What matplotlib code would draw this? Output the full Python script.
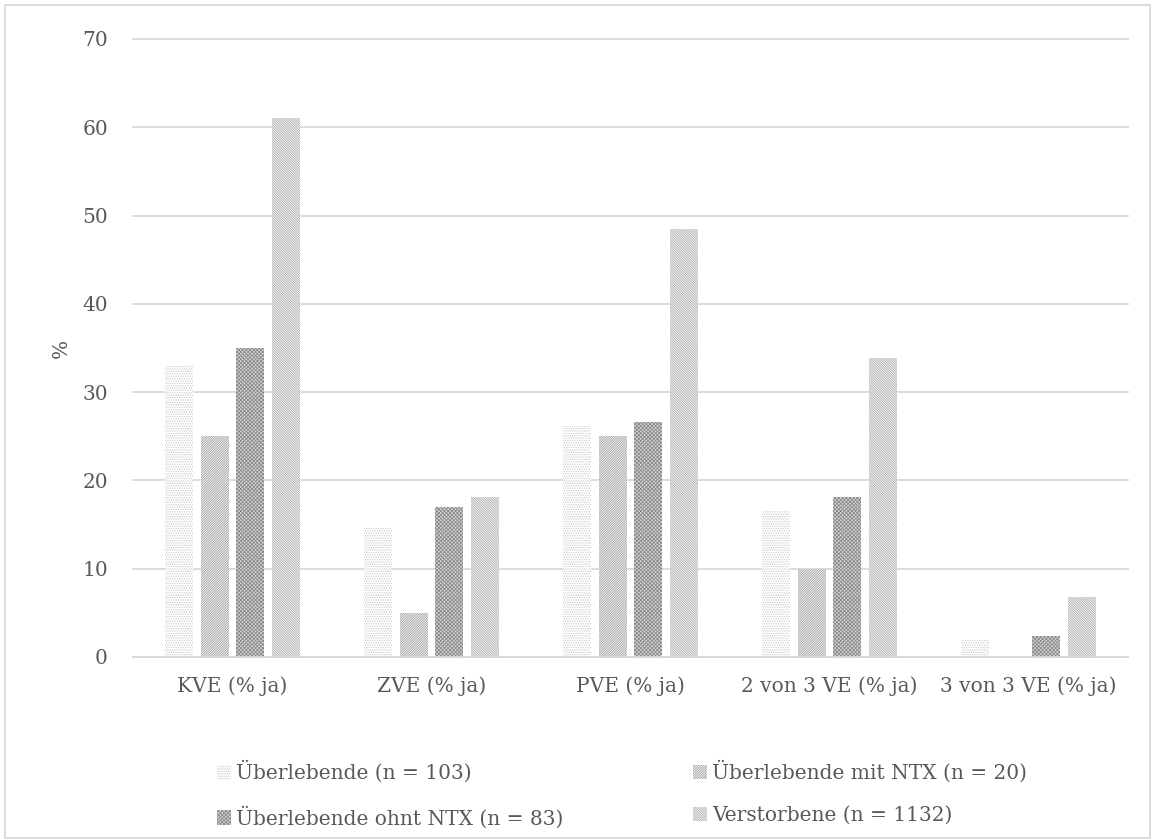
import matplotlib
matplotlib.use('Agg')
import matplotlib.pyplot as plt
import numpy as np
from matplotlib.patches import Rectangle

# categories and series (percent "ja")
categories = ['KVE (% ja)', 'ZVE (% ja)', 'PVE (% ja)', '2 von 3 VE (% ja)', '3 von 3 VE (% ja)']
series_names = ['Überlebende (n = 103)', 'Überlebende mit NTX (n = 20)',
                'Überlebende ohnt NTX (n = 83)', 'Verstorbene (n = 1132)']
ueberlebende = [33.0, 14.6, 26.2, 16.5, 1.9]
mit_ntx = [25.0, 5.0, 25.0, 10.0, 0.0]
ohne_ntx = [35.0, 17.0, 26.6, 18.1, 2.4]
verstorbene = [61.1, 18.1, 48.5, 33.9, 6.8]
yticks = [0, 10, 20, 30, 40, 50, 60, 70]

plt.rcParams['font.family'] = ['DejaVu Serif']
plt.rcParams['hatch.linewidth'] = 0.6
text_col = '#595959'
fs = 14.5

fig = plt.figure(figsize=(11.56, 8.4), dpi=100)
ax = fig.add_axes([133 / 1156, 183 / 840, 995 / 1156, 618 / 840])

# pattern fills for the four groups
styles = [
    dict(hatch='.' * 7, edgecolor='#c8c8c8', facecolor='white'),
    dict(hatch='/' * 14, edgecolor='#9a9a9a', facecolor='white'),
    dict(hatch='x' * 9, edgecolor='#8a8a8a', facecolor='#d6d6d6'),
    dict(hatch='\\' * 14, edgecolor='#a8a8a8', facecolor='white'),
]

x = np.arange(len(categories))
width = 0.14
step = 0.18
data = [ueberlebende, mit_ntx, ohne_ntx, verstorbene]
handles = []
for i, vals in enumerate(data):
    b = ax.bar(x + (i - 1.5) * step, vals, width, linewidth=0,
               label=series_names[i], zorder=2, **styles[i])
    handles.append(b)

ax.set_xlim(-0.5, len(categories) - 0.5)
ax.set_ylim(0, 70)
ax.set_yticks(yticks)
ax.set_xticks(x)
ax.set_xticklabels(categories)
ax.yaxis.grid(True, color='#d9d9d9', linewidth=1.3, zorder=0)
for gl in ax.get_ygridlines():
    gl.set_clip_on(False)
ax.set_axisbelow(True)
for s in ['top', 'right', 'left']:
    ax.spines[s].set_visible(False)
ax.spines['bottom'].set_color('#d9d9d9')
ax.spines['bottom'].set_linewidth(1.3)
ax.tick_params(axis='both', length=0, labelsize=fs, labelcolor=text_col)
ax.tick_params(axis='y', pad=18)
ax.tick_params(axis='x', pad=14)
ax.set_ylabel('%', fontsize=fs, color=text_col)
ax.yaxis.set_label_coords(-0.062, 0.5)

# legend filled row by row: reorder for matplotlib's column-major layout
order = [0, 2, 1, 3]
fig.legend(handles=[handles[i] for i in order], labels=[series_names[i] for i in order],
           loc='center', bbox_to_anchor=(0.538, 0.054), ncol=2,
           frameon=False, fontsize=fs, labelcolor=text_col, handlelength=0.7,
           handleheight=0.7, handletextpad=0.25, columnspacing=6.4, labelspacing=1.15)

# outer chart border
fig.patches.append(Rectangle((5 / 1156, 2 / 840), 1145 / 1156, 833 / 840,
                             transform=fig.transFigure, fill=False,
                             edgecolor='#d9d9d9', linewidth=1.3))

fig.savefig('out.png', dpi=100)
